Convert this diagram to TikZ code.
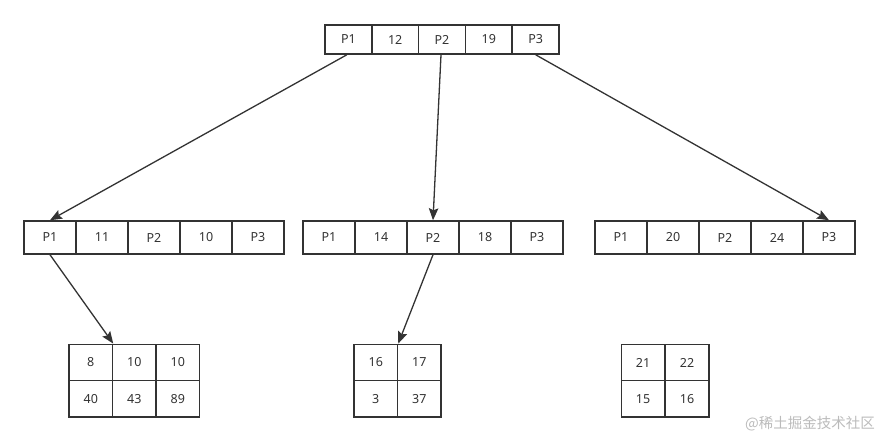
\documentclass[tikz,border=0pt]{standalone}
\usepackage{fontspec}
\setmainfont{Noto Sans}
\newfontfamily\cjkfont{Noto Sans CJK SC}
\usetikzlibrary{arrows.meta}
\definecolor{ink}{HTML}{333333}
\definecolor{wm}{HTML}{BBBBBB}
\tikzset{
  cellbox/.style={draw=ink, line width=1.5pt, minimum width=#1, inner sep=0pt, text=ink, font=\fontsize{12.5}{14}\selectfont},
  toprow/.style={cellbox=46.8pt, minimum height=29pt},
  midrow/.style={cellbox=52pt, minimum height=33pt},
  botcell/.style={cellbox=43.5pt, minimum height=36.3pt},
  link/.style={draw=ink, line width=1.3pt, -{Stealth[length=12pt,width=9.5pt,inset=2pt]}},
}
\begin{document}
\begin{tikzpicture}[x=1pt,y=-1pt]
\useasboundingbox (0,0) rectangle (880,443);
% top node
\foreach \t [count=\i] in {P1,12,P2,19,P3}
  \node[toprow] (t\i) at ({325+23.4+46.8*(\i-1)},39.5) {\t};
% middle nodes
\foreach \t [count=\i] in {P1,11,P2,10,P3}
  \node[midrow] (l\i) at ({50+52*(\i-1)},237.5) {\t};
\foreach \t [count=\i] in {P1,14,P2,18,P3}
  \node[midrow] (c\i) at ({329+52*(\i-1)},237.5) {\t};
\foreach \t [count=\i] in {P1,20,P2,24,P3}
  \node[midrow] (r\i) at ({621+52*(\i-1)},237.5) {\t};
% bottom left table
\foreach \t [count=\i] in {8,10,10}
  \node[botcell] (bl1\i) at ({90.75+43.5*(\i-1)},362.5) {\t};
\foreach \t [count=\i] in {40,43,89}
  \node[botcell] (bl2\i) at ({90.75+43.5*(\i-1)},398.8) {\t};
% bottom center table
\foreach \t [count=\i] in {16,17}
  \node[botcell] (bc1\i) at ({375.75+43.5*(\i-1)},362.5) {\t};
\foreach \t [count=\i] in {3,37}
  \node[botcell] (bc2\i) at ({375.75+43.5*(\i-1)},398.8) {\t};
% bottom right table
\foreach \t [count=\i] in {21,22}
  \node[botcell] (br1\i) at ({643+44*(\i-1)},362.5) {\t};
\foreach \t [count=\i] in {15,16}
  \node[botcell] (br2\i) at ({643+44*(\i-1)},398.8) {\t};
% connectors
\draw[link] ([xshift=-1.5pt]t1.south) -- (l1.north);
\draw[link] ([xshift=-1pt]t3.south) -- (c3.north);
\draw[link] (t5.south) -- (r5.north);
\draw[link] (l1.south) -- (bl11.north east);
\draw[link] (c3.south) -- (bc11.north east);
% watermark
\node[text=wm, font=\cjkfont\fontsize{14.5}{16}\selectfont, anchor=east, inner sep=0pt] (wmark) at (875,424) {@稀土掘金技术社区};
\end{tikzpicture}
\end{document}
